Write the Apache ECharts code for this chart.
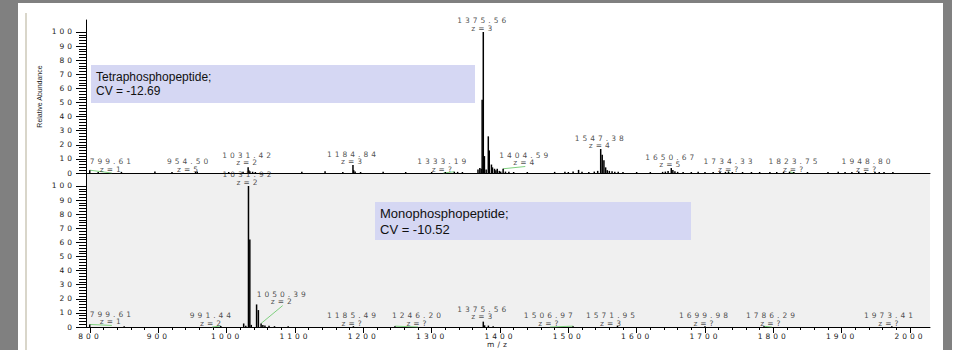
<!DOCTYPE html>
<html>
<head>
<meta charset="utf-8">
<script src="https://cdn.jsdelivr.net/npm/echarts@6.0.0/dist/echarts.min.js"></script>
<style>
  html, body { margin: 0; padding: 0; background: #fff; }
  #wrap { position: relative; width: 958px; height: 350px; overflow: hidden; background: #fff; }
  .frame { position: absolute; }
  #chart { position: absolute; left: 0; top: 0; width: 958px; height: 350px; }
  /* spectrum labels are drawn with wide letter spacing */
  #chart text[style*="DejaVu"] { letter-spacing: 3px; }
</style>
</head>
<body>
<div id="wrap">
  <div class="frame" style="left:0;top:0;width:18px;height:350px;background:#808080"></div>
  <div class="frame" style="left:18px;top:0;width:925px;height:3px;background:#808080"></div>
  <div class="frame" style="left:943px;top:0;width:9px;height:350px;background:#808080"></div>
  <div class="frame" style="left:25px;top:13px;width:2px;height:337px;background:#d9d6ca"></div>
  <div id="chart"></div>
</div>
<script>
// m/z, relative abundance
const topPeaks = [
  [799.61, 2.0], [812, 0.7], [846, 0.8], [895, 1.0], [920, 0.7], [954.50, 0.8], [957, 1.0],
  [1003, 0.7], [1024, 0.8], [1031.42, 4.0], [1032.4, 2.0], [1034, 1.2], [1038, 0.9], [1042, 0.7],
  [1110, 0.9], [1144, 1.2], [1170, 0.7], [1184.84, 5.7], [1185.9, 2.0], [1188, 1.0], [1196, 0.7],
  [1229, 0.9], [1262, 0.7], [1300, 0.7], [1320, 0.7], [1333.19, 0.9], [1338, 0.8], [1345, 0.7],
  [1367.8, 2.5], [1370.5, 3.5], [1372.5, 3.0], [1373.9, 52], [1375.56, 100], [1377.2, 12],
  [1379.8, 2.5], [1382.89, 26], [1384.3, 16], [1387.5, 6], [1389.0, 4], [1392, 3], [1394, 2],
  [1396, 3], [1399, 1.5], [1401, 1.0], [1404.59, 3.0], [1408, 1.0], [1413, 0.8], [1420, 0.7],
  [1440, 0.7], [1480, 0.8], [1495, 0.9], [1500, 0.7], [1507, 1.0], [1515, 2.2], [1520, 0.8],
  [1530, 0.7], [1538, 1.0], [1543, 1.5], [1547.38, 17], [1549.6, 13], [1552.1, 9], [1554.6, 4],
  [1557, 2.0], [1560, 1.5], [1564, 1.2], [1568, 0.9], [1573, 0.8], [1580, 0.7], [1600, 0.7],
  [1620, 0.7], [1638, 0.8], [1642, 1.0], [1646, 1.5], [1650.67, 3.5], [1653, 2.2], [1656, 1.2],
  [1660, 0.8], [1668, 0.7], [1680, 0.7], [1690, 0.8], [1700, 0.7], [1712, 0.7], [1722, 0.9],
  [1730, 0.8], [1734.33, 1.0], [1740, 0.7], [1755, 0.7], [1768, 0.7], [1780, 0.7], [1795, 0.7],
  [1805, 0.7], [1815, 0.8], [1823.75, 0.9], [1830, 0.7], [1850, 0.7], [1880, 0.7], [1895, 0.8],
  [1905, 0.7], [1915, 0.7], [1925, 0.8], [1935, 0.7], [1948.80, 0.9], [1955, 0.7], [1962, 0.7],
  [1975, 0.7]
];

const bottomPeaks = [
  [799.61, 1.8], [850, 0.5], [991.44, 0.7], [1024.9, 2.5], [1028, 0.8], [1031.92, 100],
  [1033.9, 62], [1036, 1.5], [1043.8, 16], [1046.4, 12], [1050.39, 2.5], [1053, 1.5],
  [1056, 1.0], [1062, 0.8], [1070, 0.6], [1090, 0.5], [1185.49, 0.6], [1246.20, 0.6],
  [1375.56, 3.8], [1377.5, 1.2], [1383, 1.0], [1390, 0.6], [1506.97, 0.6], [1571.95, 0.8],
  [1699.98, 0.5], [1786.29, 0.5], [1973.41, 0.6]
];

// peak annotations: m/z, charge state
const topLabelMz = [799.61, 954.50, 1031.42, 1184.84, 1333.19, 1375.56, 1404.59, 1547.38, 1650.67, 1734.33, 1823.75, 1948.80];
const topLabelZ = ['1', '5', '2', '3', '?', '3', '4', '4', '5', '?', '?', '?'];
const bottomLabelMz = [799.61, 991.44, 1031.92, 1050.39, 1185.49, 1246.20, 1375.56, 1506.97, 1571.95, 1699.98, 1786.29, 1973.41];
const bottomLabelZ = ['1', '2', '2', '2', '?', '?', '3', '?', '3', '?', '?', '?'];

// where each annotation sits, in data units (m/z, abundance of its lower edge)
const topLabelAt = [[832, 0], [945, 0], [1031.42, 4.6], [1184.84, 5.3], [1317, 0], [1375.56, 100],
  [1437, 4.6], [1547.38, 16.7], [1650.67, 3.2], [1736, 0], [1831, 0], [1938, 0]];
const bottomLabelAt = [[832, 1.1], [978.5, 0], [1031.92, 100], [1082, 15.2], [1185, 0], [1280, 0],
  [1375.56, 4.6], [1473, 0], [1564, 0], [1700, 0], [1798, 0], [1970.7, 0]];
const topLeaders = [0, 4, 6, 9, 10];
const bottomLeaders = [0, 1, 3, 5, 7, 10];

const yTickLabels = [0, 10, 20, 30, 40, 50, 60, 70, 80, 90, 100];
const xTickLabels = [800, 900, 1000, 1100, 1200, 1300, 1400, 1500, 1600, 1700, 1800, 1900, 2000];

const X_MIN = 794.15, X_MAX = 2029.3, Y_MAX = 108.5;
const SPACED = 'DejaVu Sans';
const TEXT = '#222';

const yMinor = [];
for (let v = 0; v <= 100; v += 2) yMinor.push(v);
const xMinor = [];
for (let v = 800; v <= 2000; v += 20) xMinor.push(v);

function labelData(mzs, zs, at) {
  return mzs.map((mz, i) => [at[i][0], at[i][1], mz.toFixed(2) + '\nz=' + zs[i]]);
}
function leaderData(peaks, mzs, at, idx) {
  return idx.map(i => {
    const p = peaks.find(d => d[0] === mzs[i]);
    return { coords: [[mzs[i], p ? p[1] : 0], at[i]] };
  });
}

function yAxes(gridIndex, withName) {
  return [
    {
      type: 'value', gridIndex, position: 'left', min: 0, max: Y_MAX,
      name: withName ? 'Relative Abundance' : '',
      nameLocation: 'middle', nameGap: 43, nameRotate: 90,
      nameTextStyle: { fontFamily: 'Liberation Sans Narrow, Liberation Sans', fontSize: 7, color: TEXT },
      axisLine: { show: true, lineStyle: { color: '#000', width: 1 } },
      axisTick: { show: true, customValues: yTickLabels, length: 10, lineStyle: { color: '#000' } },
      axisLabel: { show: true, customValues: yTickLabels, margin: 11, fontFamily: SPACED, fontSize: 7.5, color: TEXT,
        formatter: v => String(v) },
      splitLine: { show: false }
    },
    {
      type: 'value', gridIndex, position: 'left', min: 0, max: Y_MAX,
      axisLine: { show: false },
      axisTick: { show: true, customValues: yMinor, length: 7, lineStyle: { color: '#000' } },
      axisLabel: { show: false },
      splitLine: { show: false }
    }
  ];
}

const labelStyle = {
  show: true, position: 'top', distance: 0,
  formatter: p => p.data[2],
  fontFamily: SPACED, fontSize: 7.5, lineHeight: 7.5, color: TEXT, align: 'center'
};

const chart = echarts.init(document.getElementById('chart'), null, { renderer: 'svg' });
chart.setOption({
  animation: false,
  grid: [
    { left: 86, right: 28, top: 20, height: 153, show: false, outerBoundsMode: 'none' },
    { left: 86, right: 28, top: 174, height: 153, show: true, backgroundColor: '#f0f0f0', borderWidth: 0, outerBoundsMode: 'none' }
  ],
  xAxis: [
    {
      type: 'value', gridIndex: 0, min: X_MIN, max: X_MAX,
      axisLine: { show: true, lineStyle: { color: '#000', width: 1 } },
      axisTick: { show: false }, axisLabel: { show: false }, splitLine: { show: false }
    },
    {
      type: 'value', gridIndex: 1, position: 'bottom', min: X_MIN, max: X_MAX,
      name: 'm/z', nameLocation: 'middle', nameGap: 11,
      nameTextStyle: { fontFamily: SPACED, fontSize: 7.5, color: TEXT, padding: [0, 19, 0, 0] },
      axisLine: { show: true, lineStyle: { color: '#000', width: 1 } },
      axisTick: { show: true, customValues: xTickLabels, length: 6, lineStyle: { color: '#000' } },
      axisLabel: { show: true, customValues: xTickLabels, margin: 5, fontFamily: SPACED, fontSize: 7.5, color: TEXT,
        formatter: v => String(v) },
      splitLine: { show: false }
    },
    {
      type: 'value', gridIndex: 1, position: 'bottom', min: X_MIN, max: X_MAX,
      axisLine: { show: false },
      axisTick: { show: true, customValues: xMinor, length: 3, lineStyle: { color: '#000' } },
      axisLabel: { show: false }, splitLine: { show: false }
    }
  ],
  yAxis: [...yAxes(0, true), ...yAxes(1, false)],
  graphic: [
    { type: 'rect', left: 91, top: 65, shape: { width: 384, height: 38 }, style: { fill: '#d5d7f3' }, z: 1 },
    { type: 'text', left: 96, top: 70, z: 2,
      style: { text: 'Tetraphosphopeptide;\nCV = -12.69', font: '12px "Liberation Sans"', lineHeight: 14, fill: '#111' } },
    { type: 'rect', left: 375, top: 202, shape: { width: 316, height: 38 }, style: { fill: '#d5d7f3' }, z: 1 },
    { type: 'text', left: 380, top: 205, z: 2,
      style: { text: 'Monophosphopeptide;\nCV = -10.52', font: '13px "Liberation Sans"', lineHeight: 16.5, fill: '#111' } }
  ],
  series: [
    {
      type: 'bar', xAxisIndex: 0, yAxisIndex: 0, data: topPeaks, barWidth: 1.5,
      itemStyle: { color: '#000' }, silent: true, z: 3
    },
    {
      type: 'bar', xAxisIndex: 1, yAxisIndex: 2, data: bottomPeaks, barWidth: 1.5,
      itemStyle: { color: '#000' }, silent: true, z: 3
    },
    {
      type: 'lines', coordinateSystem: 'cartesian2d', xAxisIndex: 0, yAxisIndex: 0,
      data: leaderData(topPeaks, topLabelMz, topLabelAt, topLeaders),
      lineStyle: { color: '#7fd07f', width: 1, opacity: 1 }, silent: true, z: 2
    },
    {
      type: 'lines', coordinateSystem: 'cartesian2d', xAxisIndex: 1, yAxisIndex: 2,
      data: leaderData(bottomPeaks, bottomLabelMz, bottomLabelAt, bottomLeaders),
      lineStyle: { color: '#7fd07f', width: 1, opacity: 1 }, silent: true, z: 2
    },
    {
      type: 'scatter', xAxisIndex: 0, yAxisIndex: 0, symbolSize: 0,
      data: labelData(topLabelMz, topLabelZ, topLabelAt),
      label: labelStyle, labelLayout: { hideOverlap: false }, silent: true, z: 4
    },
    {
      type: 'scatter', xAxisIndex: 1, yAxisIndex: 2, symbolSize: 0,
      data: labelData(bottomLabelMz, bottomLabelZ, bottomLabelAt),
      label: labelStyle, labelLayout: { hideOverlap: false }, silent: true, z: 4
    }
  ]
});
</script>
</body>
</html>
